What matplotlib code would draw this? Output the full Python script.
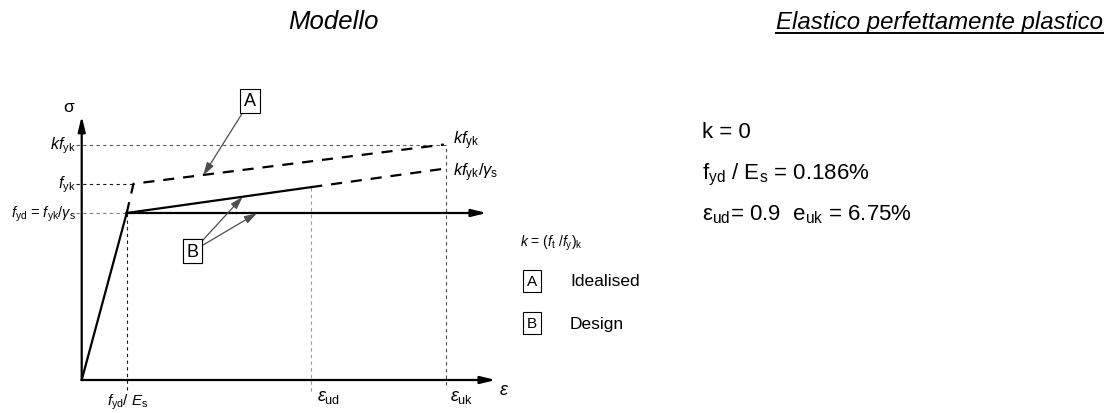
import matplotlib
matplotlib.use('Agg')
import matplotlib.pyplot as plt
from matplotlib.lines import Line2D

plt.rcParams['font.family'] = ['Liberation Sans', 'DejaVu Sans']
plt.rcParams['mathtext.fontset'] = 'custom'
plt.rcParams['mathtext.rm'] = 'Liberation Sans'
plt.rcParams['mathtext.it'] = 'Liberation Sans:italic'
plt.rcParams['mathtext.bf'] = 'Liberation Sans:bold'

# schematic strain values (in units of fyd/Es)
eps_yd = 1.0
eps_yk = 1.15
eps_ud = 5.1
eps_uk = 8.05
eps_max = 9.0

# schematic stress values (in units of fyd)
f_yd = 1.0
f_yk = 1.175
kf_yk = 1.41
kf_yk_gs = 1.265
f_ud = 1.155

elastic_x = [0, eps_yd]
elastic_y = [0, f_yd]
idealised_x = [eps_yd, eps_yk, eps_uk]
idealised_y = [f_yd, f_yk, kf_yk]
design_x = [eps_yd, eps_ud]
design_y = [f_yd, f_ud]
design_dash_x = [eps_ud, eps_uk]
design_dash_y = [f_ud, kf_yk_gs]

W, H = 1113, 414
fig = plt.figure(figsize=(W / 100, H / 100), dpi=100)
ax = fig.add_axes([81.7 / W, 33 / H, 9.4 * 45 / W, 1.65 * 167 / H])
ax.set_xlim(0, 9.4)
ax.set_ylim(0, 1.65)
ax.axis('off')

head = '-|>,head_length=0.9,head_width=0.22'
# axes arrows
ax.annotate('', xy=(9.2, 0), xytext=(0, 0), annotation_clip=False,
            arrowprops=dict(arrowstyle=head, lw=1.6, color='k', shrinkA=0, shrinkB=0))
ax.annotate('', xy=(0, 1.58), xytext=(0, 0), annotation_clip=False,
            arrowprops=dict(arrowstyle=head, lw=1.6, color='k', shrinkA=0, shrinkB=0))

# reference dashed lines
ref = dict(lw=0.8, ls=(0, (3, 3)), clip_on=False)
ax.plot([-0.12, eps_uk + 0.05], [kf_yk, kf_yk], color='0.35', **ref)
ax.plot([-0.12, eps_yk], [f_yk, f_yk], color='0.1', **ref)
ax.plot([-0.12, eps_yd], [f_yd, f_yd], color='0.5', **ref)
ax.plot([eps_yd, eps_yd], [-0.06, f_yd], color='0.1', **ref)
ax.plot([eps_ud, eps_ud], [-0.065, f_ud], color='0.6', **ref)
ax.plot([eps_uk + 0.05, eps_uk + 0.05], [-0.03, kf_yk], color='0.3', **ref)

# stress-strain branches
ax.plot(elastic_x, elastic_y, color='k', lw=1.6, clip_on=False)
ax.plot(idealised_x, idealised_y, color='k', lw=1.6, ls=(0, (5, 4)), clip_on=False)
ax.plot(design_x, design_y, color='k', lw=1.6, clip_on=False)
ax.plot(design_dash_x, design_dash_y, color='k', lw=1.6, ls=(0, (5, 4)), clip_on=False)
ax.annotate('', xy=(eps_max, f_yd), xytext=(eps_yd, f_yd), annotation_clip=False,
            arrowprops=dict(arrowstyle=head, lw=1.6, color='k', shrinkA=0, shrinkB=0))

# labels on the diagram
ax.text(-0.30, 1.635, 'σ', fontsize=12.5, ha='center', va='center')
ax.text(-0.125, kf_yk, r'$kf_{\mathrm{yk}}$', fontsize=11.5, ha='right', va='center')
ax.text(-0.125, f_yk, r'$f_{\mathrm{yk}}$', fontsize=11.5, ha='right', va='center')
ax.text(-0.125, f_yd, r'$f_{\mathrm{yd}}$ = $f_{\mathrm{yk}}/\gamma_{\mathrm{s}}$',
        fontsize=10.5, ha='right', va='center')
ax.text(8.25, 1.44, r'$kf_{\mathrm{yk}}$', fontsize=12, ha='left', va='center')
ax.text(8.25, 1.245, r'$kf_{\mathrm{yk}}/\gamma_{\mathrm{s}}$', fontsize=12, ha='left', va='center')
ax.text(1.03, -0.13, r'$f_{\mathrm{yd}}/\ E_{\mathrm{s}}$', fontsize=11, ha='center', va='center')
ax.text(5.22, -0.10, r'$\varepsilon_{\mathrm{ud}}$', fontsize=13, ha='left', va='center')
ax.text(8.18, -0.10, r'$\varepsilon_{\mathrm{uk}}$', fontsize=13, ha='left', va='center')
ax.text(9.38, -0.055, r'$\varepsilon$', fontsize=13, ha='center', va='center')

box = dict(boxstyle='square,pad=0.2', fc='white', ec='black', lw=0.8)
arr = dict(arrowstyle='-|>,head_length=0.6,head_width=0.18', color='0.3', lw=0.9,
           shrinkA=0, shrinkB=0)
ax.annotate('A', xy=(2.70, 1.225), xytext=(3.74, 1.671), fontsize=13, ha='center',
            va='center', bbox=box, arrowprops=arr, annotation_clip=False)
ax.annotate('B', xy=(3.58, 1.098), xytext=(2.47, 0.772), fontsize=13, ha='center',
            va='center', bbox=box, arrowprops=arr, annotation_clip=False)
ax.annotate('B', xy=(3.90, 1.0), xytext=(2.47, 0.772), fontsize=13, ha='center',
            va='center', bbox=box, arrowprops=arr, annotation_clip=False)

# legend / notes
def fx(px):
    return px / W

def fy(py):
    return 1 - py / H

fig.text(fx(520), fy(243), r'$k$ = ($f_{\mathrm{t}}$ /$f_{\mathrm{y}}$)$_{\mathrm{k}}$',
         fontsize=10, ha='left', va='center')
small_box = dict(boxstyle='square,pad=0.25', fc='white', ec='black', lw=0.8)
fig.text(fx(531.7), fy(282), 'A', fontsize=11, ha='center', va='center', bbox=small_box)
fig.text(fx(531.7), fy(324), 'B', fontsize=11, ha='center', va='center', bbox=small_box)
fig.text(fx(570), fy(282), 'Idealised', fontsize=12.5, ha='left', va='center')
fig.text(fx(570), fy(324), 'Design', fontsize=12.5, ha='left', va='center')

fig.text(fx(702), fy(133), 'k = 0', fontsize=16, ha='left', va='center')
fig.text(fx(702), fy(175), r'f$_{\mathrm{yd}}$ / E$_{\mathrm{s}}$ = 0.186%', fontsize=16,
         ha='left', va='center')
fig.text(fx(702), fy(215), r'ε$_{\mathrm{ud}}$= 0.9  e$_{\mathrm{uk}}$ = 6.75%', fontsize=16,
         ha='left', va='center')

# titles
fig.text(fx(333), fy(22), 'Modello', fontsize=18.5, style='italic', ha='center', va='center')
t = fig.text(fx(1103), fy(22), 'Elastico perfettamente plastico', fontsize=17.3,
             style='italic', ha='right', va='center')
fig.canvas.draw()
bb = t.get_window_extent(fig.canvas.get_renderer()).transformed(fig.transFigure.inverted())
fig.add_artist(Line2D([bb.x0, bb.x1], [fy(33.5), fy(33.5)], transform=fig.transFigure,
                      color='k', lw=1.4))

fig.savefig('out.png', dpi=100)
